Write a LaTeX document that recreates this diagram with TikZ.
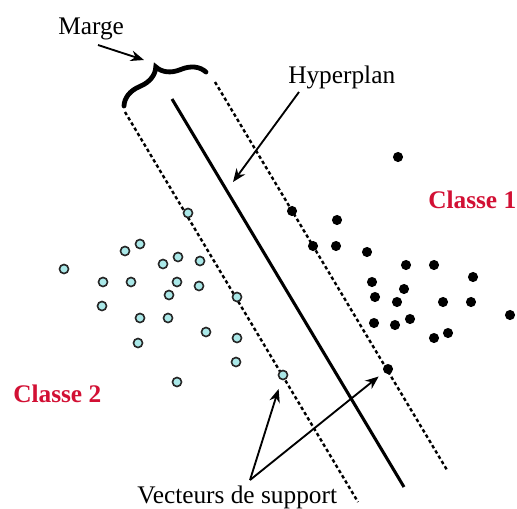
\documentclass[tikz,border=0pt]{standalone}
\usepackage{fontspec}
\setmainfont{Liberation Serif}
\usetikzlibrary{arrows.meta,decorations.pathreplacing}
\definecolor{classred}{RGB}{210,16,52}
\definecolor{cyanpt}{RGB}{170,232,232}
\tikzset{
  lbl/.style={inner sep=0pt, anchor=base west, font=\fontsize{19}{22}\selectfont},
  clslbl/.style={lbl, text=classred, font=\fontsize{19}{22}\selectfont\bfseries},
  posdot/.style={circle, fill=black, inner sep=0pt, minimum size=7.6pt},
  negdot/.style={circle, draw=black!85, fill=cyanpt, line width=1.2pt, inner sep=0pt, minimum size=6.8pt},
  hyper/.style={line width=2.3pt},
  marginline/.style={line width=1.8pt, dash pattern=on 2.6pt off 2pt},
  pointer/.style={line width=1.4pt, -{Stealth[length=10pt,width=8pt]}},
  bracestyle/.style={line width=3.6pt, line cap=round, decorate, decoration={brace, amplitude=18pt}}
}
\begin{document}
\begin{tikzpicture}[x=0.75pt,y=-0.75pt]
\useasboundingbox (0,0) rectangle (517,508);
% lines
\coordinate (h1) at (172,99);  \coordinate (h2) at (404,487);
\coordinate (m1) at (125,112); \coordinate (m2) at (358,502);
\coordinate (p1) at (215,82);  \coordinate (p2) at (447,470);
\draw[hyper] (h1) -- (h2);
\draw[marginline] (m1) -- (m2);
\draw[marginline] (p1) -- (p2);
% brace
\coordinate (b1) at (124,106); \coordinate (b2) at (206,72);
\draw[bracestyle] (b1) -- (b2);
% class 1 points
\foreach \x/\y [count=\i] in {398/157,292/211,337/220,313/246,336/246,367/252,406/265,434/265,473/277,372/282,404/289,375/297,397/302,443/302,471/302,510/315,374/323,395/325,410/319,448/333,434/338}
  \node[posdot] (c\i) at (\x,\y) {};
\node[posdot] (sv1) at (388,369) {};
% class 2 points
\foreach \x/\y [count=\i] in {188/213,140/244,125/251,64/269,103/282,131/282,163/264,178/257,200/261,177/282,199/286,169/295,237/297,102/306,140/318,168/318,206/332,237/338,138/343,236/362,177/382}
  \node[negdot] (d\i) at (\x,\y) {};
\node[negdot] (sv2) at (283,375) {};
% labels
\node[lbl] (marge) at (58,34) {Marge};
\node[lbl] (hyp) at (288,83) {Hyperplan};
\node[clslbl] (cl1) at (428,208) {Classe 1};
\node[clslbl] (cl2) at (13,402) {Classe 2};
\node[lbl] (vs) at (137,503) {Vecteurs de support};
% pointers
\coordinate (ma) at (98,45);  \coordinate (mb) at (144,60);
\draw[pointer] (ma) -- (mb);
\coordinate (ha) at (299,92); \coordinate (hb) at (233,182);
\draw[pointer] (ha) -- (hb);
\coordinate (vsa) at (250,480);
\draw[pointer, shorten >=7pt] (vsa) -- (sv2);
\draw[pointer, shorten >=5pt] (vsa) -- (sv1);
\end{tikzpicture}
\end{document}
